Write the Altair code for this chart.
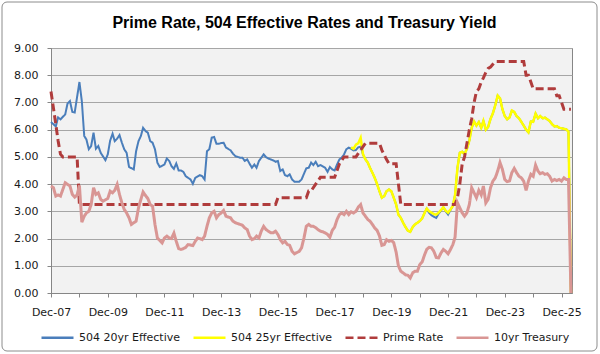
import altair as alt
import pandas as pd

# ---- data (month index counted from Dec-2007) ----
m20 = [0,2,3,4,6,7,8,9,10,12,13,14,15,16,17,18,19,20,21,23,24,25,26,27,28,29,30,31,32,33,35,36,37,38,39,40,41,42,43,44,45,46,48,49,50,51,52,53,54,55,56,
       57,59,60,61,63,64,65,66,67,68,69,70,71,72,73,74,76,77,78,80,81,82,83,84,85,86,87,88,90,91,92,94,95,96,97,98,99,100,101,102,103,105,106,107,108,109,110,
       111,112,113,114,115,116,117,118,119,120,121,122,123,124,125,126,127,128,129,130,131,132,133,134,135,136,137,138,139,140,141,142,143,144,145,146,147,148,
       149,150,151,152,153,154,155,156,157,158,159,160,161,162,163,164,165,166,167,168,169,170,171,172,173,174,175,176,177,178,179,180,181,182,183,184,185,186,
       187,188,189,190,191,192,193,194,195,196,197,198,199,200,201,202,203,204,205,206,207,208,209,210,211,212,213,214,215,216,217,218,219,220]
v20 = [6.28,6.12,6.45,6.38,6.56,6.96,7.05,6.65,6.63,7.75,7.05,5.77,5.64,5.28,5.4,5.89,5.3,5.4,5.15,4.88,5.09,5.6,5.85,5.58,5.67,5.8,5.52,5.28,5.15,4.63,4.54,5.21,5.58,5.77,6.07,5.95,5.89,5.58,5.52,5.28,4.79,4.63,4.72,4.94,4.85,4.66,4.56,4.76,4.5,4.5,4.45,
       4.29,4.17,4.01,4.23,4.33,4.29,4.17,5.21,5.28,5.71,5.73,5.48,5.48,5.51,5.52,5.34,5.24,5.12,5.03,4.97,4.97,4.85,4.91,4.75,4.6,4.72,4.6,4.85,5.09,4.99,4.94,4.87,4.82,4.85,4.48,4.54,4.33,4.29,4.36,4.17,4.09,4.09,4.17,4.38,4.58,4.6,4.79,
       4.7,4.82,4.66,4.7,4.65,4.6,4.45,4.63,4.54,4.5,4.72,4.91,4.97,5.09,5.28,5.34,5.3,5.24,5.25,5.35,5.38,5.09,4.91,4.79,4.6,4.42,4.23,4.0,3.74,3.5,3.56,3.74,3.8,3.74,3.5,3.25,2.88,2.76,
       2.58,2.42,2.29,2.25,2.42,2.52,2.58,2.64,2.74,2.94,3.1,2.94,2.86,2.8,2.76,2.91,3.03,3.15,3.0,2.88,3.05,3.2,3.6,4.6,5.15,5.19,5.1,5.3,5.6,6.07,6.3,6.15,6.28,6.07,6.32,6.0,6.1,6.4,
       6.6,6.9,7.25,7.15,6.75,6.5,6.38,6.45,6.7,6.65,6.5,6.42,6.29,6.15,6.0,5.9,6.3,6.29,6.59,6.42,6.5,6.42,6.44,6.38,6.32,6.2,6.12,6.13,6.07,6.05,6.03,6.01,5.93,0.0]

m25 = list(range(127, 221))
v25 = [5.35,5.3,5.45,5.5,5.7,5.1,4.91,4.79,4.6,4.42,4.23,4.0,3.74,3.5,3.56,3.74,3.8,3.74,3.5,3.25,2.88,2.76,
       2.58,2.42,2.29,2.25,2.42,2.52,2.58,2.64,2.74,2.94,3.1,3.0,2.95,2.9,2.88,2.95,3.05,3.15,3.02,2.95,3.07,3.2,3.6,4.6,5.15,5.19,5.1,5.3,5.6,6.07,6.3,6.15,6.28,6.07,6.32,6.0,6.1,6.4,
       6.6,6.9,7.25,7.15,6.75,6.5,6.38,6.45,6.7,6.65,6.5,6.42,6.29,6.15,6.0,5.9,6.3,6.29,6.59,6.42,6.5,6.42,6.44,6.38,6.32,6.2,6.12,6.13,6.07,6.05,6.03,6.01,5.93,0.0]

mprime = [0,1,2,3,4,5,11,12,95,96,108,109,110,112,114,120,121,122,124,129,131,133,139,140,142,143,146,148,171,172,173,174,175,176,177,178,179,180,181,182,183,184,185,186,187,188,200,201,202,203,204,213,214,215,216,217,220]
vprime = [7.4,6.8,6.2,5.6,5.1,5.0,5.0,3.25,3.25,3.5,3.5,3.75,3.75,4.0,4.25,4.25,4.5,4.75,5.0,5.0,5.25,5.5,5.5,5.25,4.9,4.75,4.75,3.25,3.25,3.5,4.0,4.75,5.0,5.5,6.0,6.4,7.0,7.4,7.5,7.75,7.9,8.1,8.25,8.3,8.4,8.5,8.5,8.0,8.0,7.75,7.5,7.5,7.25,7.25,7.0,6.75,6.75]

mtsy = [0,1,2,3,4,6,7,8,9,10,11,12,13,14,15,16,17,18,19,20,21,22,24,25,26,27,28,29,30,31,32,33,34,36,37,38,39,40,41,42,43,44,45,47,48,49,50,51,52,53,54,55,56,57,58,
        60,61,62,63,64,65,66,67,68,69,70,71,72,73,74,76,77,78,80,81,82,83,84,85,86,87,88,89,90,91,92,93,94,95,96,97,98,99,100,101,102,103,105,106,107,108,109,110,111,
        112,113,114,115,116,117,118,119,120,121,122,123,124,125,126,127,128,129,130,131,132,133,134,135,136,137,138,139,140,141,142,143,144,145,146,147,148,149,150,
        151,152,153,154,155,156,157,158,159,160,161,162,163,164,165,166,167,168,169,170,171,172,173,174,175,176,177,178,179,180,181,182,183,184,185,186,187,188,189,
        190,191,192,193,194,195,196,197,198,199,200,201,202,203,204,205,206,207,208,209,210,211,212,213,214,215,216,217,218,219,220]
vtsy = [3.93,3.87,3.56,3.6,3.56,4.05,3.99,3.93,3.62,3.52,3.6,3.95,2.6,2.82,2.94,3.0,3.25,3.87,3.62,3.68,3.44,3.37,3.47,3.74,3.68,3.77,3.99,3.62,3.31,3.07,2.94,2.76,2.52,2.64,3.13,3.44,3.71,3.58,3.47,3.25,3.19,2.52,2.02,1.84,2.02,2.09,2.02,2.0,2.2,1.9,1.63,1.6,1.63,1.68,1.78,
        1.74,1.9,2.02,2.0,1.96,2.09,2.45,2.76,2.94,3.0,2.76,2.88,2.94,3.03,2.82,2.76,2.64,2.58,2.52,2.49,2.39,2.33,2.09,1.96,2.0,2.09,2.02,2.27,2.45,2.33,2.27,2.21,2.21,2.27,2.15,1.96,1.84,1.9,1.78,1.75,1.53,1.44,1.53,1.66,2.02,2.45,2.52,2.45,2.45,
        2.4,2.33,2.27,2.25,2.21,2.15,2.05,2.3,2.42,2.7,2.88,2.94,2.88,3.0,2.88,2.98,2.94,3.0,3.15,3.25,2.94,2.82,2.7,2.64,2.52,2.39,2.3,2.1,1.75,1.78,1.96,1.9,1.93,1.85,1.5,1.0,0.8,0.74,0.67,
        0.65,0.55,0.74,0.8,0.8,1.04,1.14,1.4,1.6,1.68,1.66,1.53,1.31,1.29,1.47,1.6,1.53,1.44,1.6,1.78,2.05,3.31,3.13,2.94,2.82,2.95,3.25,3.87,3.68,3.5,3.77,3.6,3.93,3.31,3.44,3.87,4.11,4.23,4.48,
        4.79,4.54,4.17,4.09,4.12,4.42,4.58,4.42,4.29,4.23,4.11,3.77,4.11,4.36,4.29,4.7,4.48,4.38,4.42,4.36,4.38,4.29,4.11,4.17,4.13,4.17,4.11,4.23,4.17,4.17,0.0]

series_names = ["504 20yr Effective", "504 25yr Effective", "Prime Rate", "10yr Treasury"]
y_ticks = [0, 1, 2, 3, 4, 5, 6, 7, 8, 9]
x_tick_years = list(range(2007, 2026))

colors = ["#4a7ebb", "#ffff00", "#b03c3c", "#d99694"]
dashes = [[1, 0], [1, 0], [8, 4], [1, 0]]
widths = [2, 2.5, 3, 3]

base = pd.Timestamp("2007-12-01")
frames = []
for name, ms, vs in zip(series_names, [m20, m25, mprime, mtsy], [v20, v25, vprime, vtsy]):
    frames.append(pd.DataFrame({
        "date": [base + pd.DateOffset(months=int(m)) for m in ms],
        "value": vs,
        "series": name,
    }))
df = pd.concat(frames, ignore_index=True)

legend = alt.Legend(
    orient="none", legendX=-11, legendY=272, direction="horizontal", title=None,
    symbolType="stroke", symbolSize=1024, symbolStrokeWidth=2.5,
    labelFont="DejaVu Sans", labelFontSize=11, labelColor="#1a1a1a",
    labelOffset=4, columnPadding=7, labelLimit=300,
)

x_enc = alt.X(
    "date:T",
    scale=alt.Scale(domain=[alt.DateTime(year=2007, month=12, date=1),
                            alt.DateTime(year=2026, month=4, date=15)]),
    axis=alt.Axis(
        values=[alt.DateTime(year=y, month=12, date=1) for y in x_tick_years],
        labelExpr="year(datum.value) % 2 == 1 ? timeFormat(datum.value, '%b-%y') : ''",
        title=None, grid=False, tickSize=4, labelPadding=9, labelFlush=False,
        labelOverlap=False,
    ),
)
y_enc = alt.Y(
    "value:Q",
    scale=alt.Scale(domain=[0, 9], nice=False),
    axis=alt.Axis(values=y_ticks, format=".2f", title=None, tickSize=4,
                  labelPadding=9, grid=True),
)

layers = []
frame = alt.Chart(alt.Data(values=[{"a": 1}])).mark_rect(
    filled=False, stroke="#8c8c8c", strokeWidth=1, cornerRadius=5
).encode(x=alt.value(-49), x2=alt.value(546), y=alt.value(-46), y2=alt.value(303))
layers.append(frame)

for name, w in zip(series_names, widths):
    layers.append(
        alt.Chart(df[df["series"] == name]).mark_line(strokeWidth=w, strokeCap="butt").encode(
            x=x_enc,
            y=y_enc,
            color=alt.Color("series:N", scale=alt.Scale(domain=series_names, range=colors), legend=legend),
            strokeDash=alt.StrokeDash("series:N", scale=alt.Scale(domain=series_names, range=dashes), legend=legend),
        )
    )

chart = alt.layer(*layers).properties(
    width=521, height=245,
    autosize=alt.AutoSizeParams(type="none"),
    padding={"left": 51, "top": 48, "right": 28, "bottom": 61},
    background="white",
    title=alt.TitleParams(
        "Prime Rate, 504 Effective Rates and Treasury Yield",
        font="Liberation Sans", fontSize=16, fontWeight="bold", color="#000000",
        anchor="middle", frame="group", dx=-7, offset=-42.5, baseline="alphabetic",
    ),
).configure_view(
    fill="#f2f2f2", stroke="#868686", strokeWidth=1
).configure_axis(
    labelFont="DejaVu Sans", labelFontSize=11, labelColor="#1a1a1a",
    domainColor="#868686", tickColor="#868686", gridColor="#a6a6a6", gridWidth=1,
)

chart.save("out.html", embed_options={"renderer": "svg", "actions": False})
